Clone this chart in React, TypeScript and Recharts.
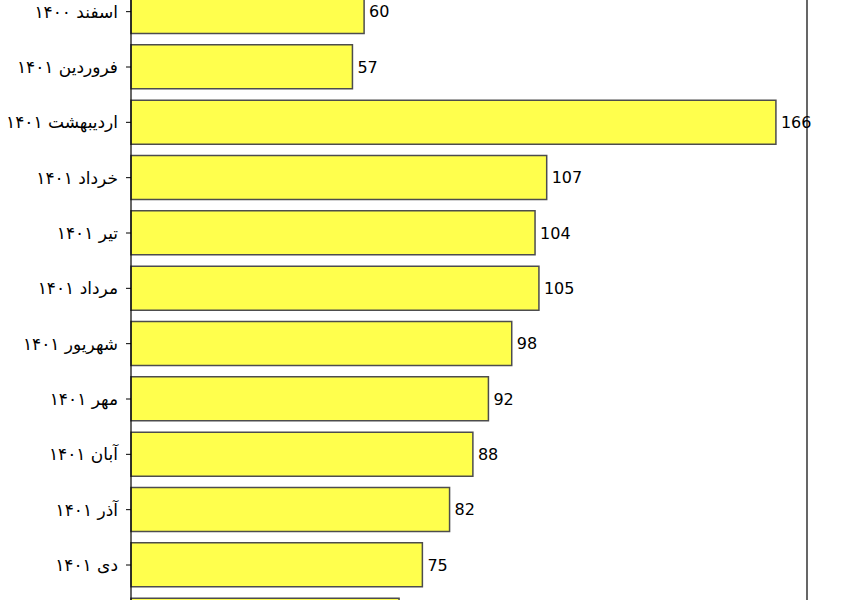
import { BarChart, Bar, XAxis, YAxis, LabelList, ReferenceLine } from "recharts";

// months (Persian calendar) and counts, top to bottom
const months = [
  "اسفند ۱۴۰۰",
  "فروردین ۱۴۰۱",
  "اردیبهشت ۱۴۰۱",
  "خرداد ۱۴۰۱",
  "تیر ۱۴۰۱",
  "مرداد ۱۴۰۱",
  "شهریور ۱۴۰۱",
  "مهر ۱۴۰۱",
  "آبان ۱۴۰۱",
  "آذر ۱۴۰۱",
  "دی ۱۴۰۱",
  "بهمن ۱۴۰۱",
];
const counts = [60, 57, 166, 107, 104, 105, 98, 92, 88, 82, 75, 69];
const xMax = 174;

const data = months.map((name, i) => ({ name, value: counts[i] }));

export default function App() {
  return (
    <div style={{ position: "absolute", left: 0, top: -16, width: 850, overflow: "hidden" }}>
      <BarChart
        width={850}
        height={664}
        data={data}
        layout="vertical"
        margin={{ top: 0, right: 43, bottom: 0, left: 0 }}
      >
        <XAxis type="number" domain={[0, xMax]} hide />
        <YAxis
          type="category"
          dataKey="name"
          width={131}
          tickSize={5}
          tickMargin={8}
          axisLine={{ stroke: "#000", strokeWidth: 1.2 }}
          tickLine={{ stroke: "#000" }}
          tick={{ fill: "#000", fontSize: 17, fontFamily: "DejaVu Sans" }}
          interval={0}
        />
        <ReferenceLine x={xMax} stroke="#000" strokeWidth={1.2} />
        <Bar
          dataKey="value"
          fill="#ffff4d"
          stroke="#4d4d4d"
          strokeWidth={1.5}
          isAnimationActive={false}
        >
          <LabelList
            dataKey="value"
            position="right"
            offset={5}
            fill="#000"
            fontSize={16}
            fontFamily="DejaVu Sans"
          />
        </Bar>
      </BarChart>
    </div>
  );
}
